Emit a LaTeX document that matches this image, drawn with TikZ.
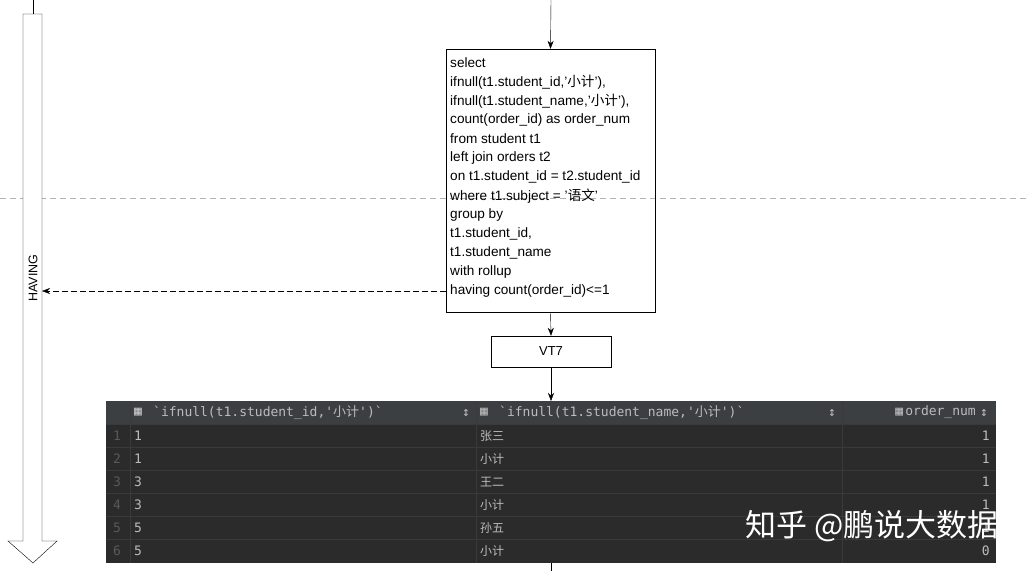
\documentclass[tikz,border=0pt]{standalone}
\usepackage{fontspec}
\setmainfont{Liberation Sans}
\setmonofont{DejaVu Sans Mono}
\newfontfamily\cjk{Noto Sans CJK SC}
\usetikzlibrary{arrows.meta}
\definecolor{tbg}{HTML}{2B2B2B}
\definecolor{thd}{HTML}{3C3F41}
\definecolor{tfg}{HTML}{BBBBBB}
\definecolor{tln}{HTML}{3A3A3A}
\begin{document}
\begin{tikzpicture}[x=1pt,y=-1pt,
  sq/.style={font=\fontsize{13.6}{14}\selectfont,anchor=west,inner sep=0},
  tt/.style={font=\ttfamily\fontsize{13}{14}\selectfont,text=tfg,anchor=west,inner sep=0},
  ck/.style={font=\cjk\fontsize{12}{13}\selectfont,text=tfg,anchor=west,inner sep=0},
  arr/.style={-{Stealth[length=8pt,width=6pt]},thin}]
\useasboundingbox (0,0) rectangle (1027,571);
\fill[white] (0,0) rectangle (1027,571);
% dashed gray line
\draw[gray!60,dashed,dash pattern=on 6pt off 4pt] (0,198) -- (1027,198);
% left hollow arrow
\draw[fill=white] (23,14) -- (42,14) -- (42,541) -- (57,541) -- (33,563) -- (8,541) -- (23,541) -- cycle;
\draw (33,0) -- (33,14);
\node[rotate=90,font=\fontsize{12.5}{13}\selectfont] (hv) at (33,278) {HAVING};
% sql box
\node[draw,minimum width=209pt,minimum height=263pt,inner sep=0] (sql) at (550.5,180.5) {};
\coordinate (top) at (551,0);
\draw[arr] (top) -- (sql.north);
\foreach \t [count=\i from 0] in {select,
 ifnull(t1.student\_id{,}'{\cjk 小计}'){,},
 ifnull(t1.student\_name{,}'{\cjk 小计}'){,},
 count(order\_id) as order\_num,
 from student t1,
 left join orders t2,
 on t1.student\_id = t2.student\_id,
 where t1.subject = '{\cjk 语文}',
 group by,
 t1.student\_id{,},
 t1.student\_name,
 with rollup,
 having count(order\_id)<=1}
 \node[sq] at (450,63+19*\i) {\t};
\coordinate (hl) at (446,291);
\coordinate (hr) at (42,291);
\draw[arr,dashed,dash pattern=on 6pt off 3pt] (hl) -- (hr);
% VT7
\node[draw,minimum width=120pt,minimum height=31pt,inner sep=0,font=\fontsize{13}{14}\selectfont] (vt) at (551,351.5) {VT7};
\draw[arr] (sql.south) -- (vt.north);
% table
\fill[tbg] (106,401) rectangle (996,563);
\fill[thd] (106,401) rectangle (996,424);
\coordinate (tt) at (551,401);
\draw[arr] (vt.south) -- (tt);
\draw (551,563) -- (551,571);
\foreach \y in {424,447,470,493,516,539} \draw[tln] (106,\y) -- (996,\y);
\foreach \x in {130,476,842} \draw[tln] (\x,401) -- (\x,563);
% header
\node[tt,text=tfg!80] at (134,412.5) {\char"25A6};
\node[tt] at (153,412.5) {`ifnull(t1.student\_id,'{\cjk 小计}')`};
\node[tt] at (480,412.5) {\char"25A6};
\node[tt] at (499,412.5) {`ifnull(t1.student\_name,'{\cjk 小计}')`};
\node[tt,anchor=east] at (976,412.5) {\char"25A6\,order\_num};
\foreach \x in {462,828,980} \node[tt] at (\x,412.5) {\char"2195};
\foreach \n/\a/\b/\c [count=\i from 0] in {1/1/张三/1,2/1/小计/1,3/3/王二/1,4/3/小计/1,5/5/孙五/1,6/5/小计/0}{
  \node[tt,text=gray!70!black] at (113,436+23*\i) {\n};
  \node[tt] at (134,436+23*\i) {\a};
  \node[ck] at (480,436+23*\i) {\b};
  \node[tt,anchor=east] at (990,436+23*\i) {\c};
}
\node[font=\cjk\fontsize{31}{33}\selectfont,text=white,anchor=west,inner sep=0] (wm) at (745,526) {知乎 @鹏说大数据};
\end{tikzpicture}
\end{document}
